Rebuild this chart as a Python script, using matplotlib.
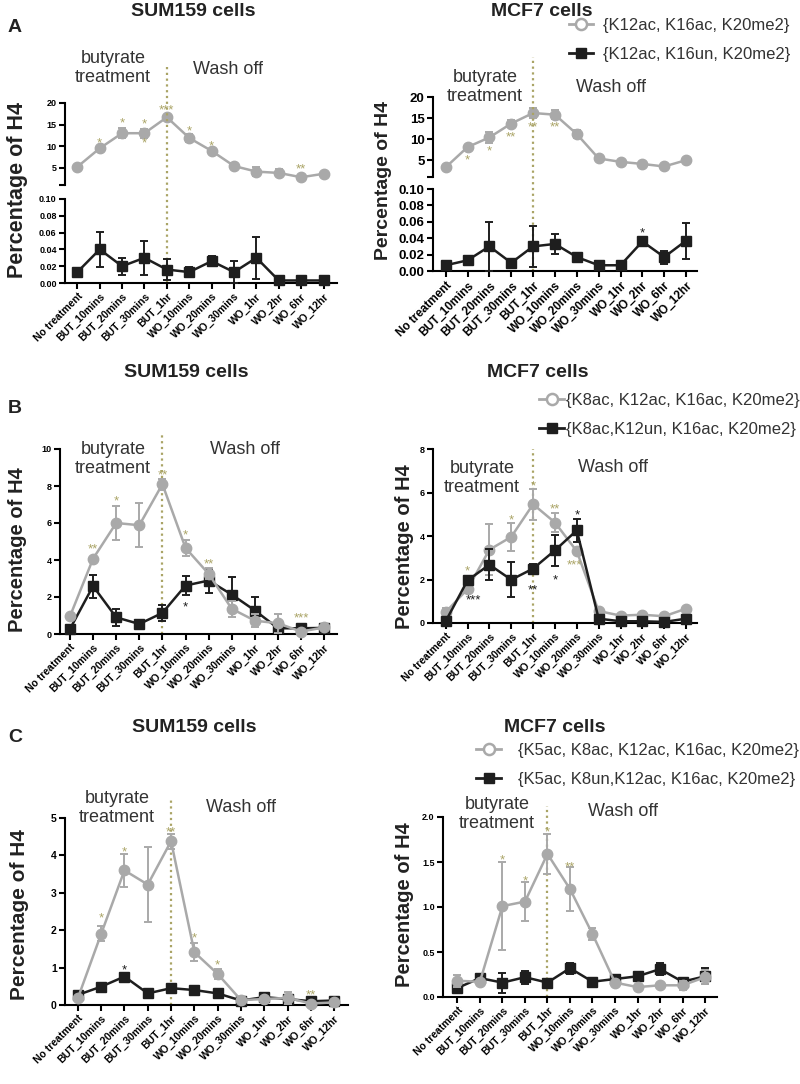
import numpy as np
import matplotlib
matplotlib.use('Agg')
import matplotlib.pyplot as plt
from matplotlib.lines import Line2D

plt.rcParams['font.family'] = ['Liberation Sans', 'DejaVu Sans']

W, H = 800, 1084

conditions = ['No treatment', 'BUT_10mins', 'BUT_20mins', 'BUT_30mins', 'BUT_1hr',
              'WO_10mins', 'WO_20mins', 'WO_30mins', 'WO_1hr', 'WO_2hr', 'WO_6hr', 'WO_12hr']

# panel A : {K12ac, K16ac, K20me2} (gray) / {K12ac, K16un, K20me2} (black)
a_sum_ac = [5.2, 9.5, 13.0, 13.0, 16.7, 11.9, 8.9, 5.4, 4.1, 3.8, 2.8, 3.6]
a_sum_ac_err = [0, 0, 1.2, 1.0, 0, 1.0, 0, 0.8, 1.0, 0.8, 0, 0]
a_sum_un = [0.013, 0.040, 0.020, 0.030, 0.016, 0.013, 0.026, 0.013, 0.030, 0.003, 0.003, 0.003]
a_sum_un_err = [0, 0.021, 0.010, 0.020, 0.012, 0.006, 0.006, 0.013, 0.025, 0, 0, 0]
a_mcf_ac = [3.3, 8.1, 10.4, 13.7, 16.2, 15.8, 11.2, 5.4, 4.6, 4.1, 3.5, 5.0]
a_mcf_ac_err = [0, 0, 1.4, 0.8, 1.1, 1.0, 0.9, 0, 0, 0, 0, 0]
a_mcf_un = [0.007, 0.013, 0.030, 0.010, 0.030, 0.033, 0.017, 0.007, 0.007, 0.036, 0.017, 0.037]
a_mcf_un_err = [0, 0, 0.030, 0, 0.025, 0.012, 0, 0, 0, 0.006, 0.008, 0.022]

# panel B : {K8ac, K12ac, K16ac, K20me2} / {K8ac,K12un, K16ac, K20me2}
b_sum_ac = [0.95, 4.07, 6.0, 5.88, 8.1, 4.65, 3.25, 1.36, 0.72, 0.58, 0.13, 0.36]
b_sum_ac_err = [0, 0, 0.93, 1.2, 0.3, 0.45, 0.3, 0.45, 0.35, 0.5, 0, 0.12]
b_sum_un = [0.27, 2.59, 0.9, 0.54, 1.14, 2.62, 2.89, 2.13, 1.27, 0.31, 0.31, 0.33]
b_sum_un_err = [0, 0.62, 0.45, 0, 0.45, 0.5, 0.65, 0.95, 0.72, 0.1, 0, 0]
b_mcf_ac = [0.5, 1.56, 3.37, 3.96, 5.46, 4.62, 3.3, 0.55, 0.34, 0.38, 0.31, 0.66]
b_mcf_ac_err = [0.2, 0, 1.17, 0.63, 0.72, 0.45, 0, 0, 0, 0, 0, 0]
b_mcf_un = [0.08, 1.96, 2.68, 1.99, 2.5, 3.34, 4.26, 0.2, 0.08, 0.08, 0.05, 0.2]
b_mcf_un_err = [0, 0, 0.72, 0.8, 0.2, 0.7, 0.52, 0, 0, 0, 0, 0]

# panel C : {K5ac, K8ac, K12ac, K16ac, K20me2} / {K5ac, K8un,K12ac, K16ac, K20me2}
c_sum_ac = [0.18, 1.9, 3.6, 3.22, 4.38, 1.41, 0.83, 0.13, 0.16, 0.19, 0.04, 0.07]
c_sum_ac_err = [0, 0.2, 0.45, 1.0, 0.2, 0.24, 0.13, 0, 0, 0.15, 0, 0]
c_sum_un = [0.27, 0.49, 0.76, 0.31, 0.45, 0.40, 0.31, 0.12, 0.21, 0.16, 0.10, 0.12]
c_sum_un_err = [0] * 12
c_mcf_ac = [0.18, 0.17, 1.01, 1.06, 1.59, 1.2, 0.70, 0.16, 0.11, 0.13, 0.13, 0.22]
c_mcf_ac_err = [0.07, 0, 0.49, 0.22, 0.22, 0.24, 0.07, 0, 0, 0.03, 0.05, 0.08]
c_mcf_un = [0.10, 0.21, 0.16, 0.22, 0.16, 0.32, 0.17, 0.20, 0.23, 0.31, 0.17, 0.23]
c_mcf_un_err = [0, 0, 0.11, 0.07, 0, 0.06, 0, 0, 0, 0.07, 0.04, 0.09]

legend_a = ['{K12ac, K16ac, K20me2}', '{K12ac, K16un, K20me2}']
legend_b = ['{K8ac, K12ac, K16ac, K20me2}', '{K8ac,K12un, K16ac, K20me2}']
legend_c = ['{K5ac, K8ac, K12ac, K16ac, K20me2}', '{K5ac, K8un,K12ac, K16ac, K20me2}']

# significance stars: (index, y, text, series)
stars_a_sum = [(1, 11.6, '*', 'g'), (2, 16.4, '*', 'g'), (3, 16.0, '*', 'g'), (3, 11.6, '*', 'g'),
               (4, 19.4, '***', 'g'), (5, 14.5, '*', 'g'), (6, 11.1, '*', 'g'), (10, 5.6, '**', 'g')]
stars_a_mcf = [(1, 6.1, '*', 'g'), (2, 8.1, '*', 'g'), (3, 11.4, '**', 'g'),
               (4, 13.8, '**', 'g'), (5, 13.8, '**', 'g')]
stars_a_mcf_low = [(9, 0.051, '*', 'k')]
stars_b_sum = [(1, 4.8, '**', 'g'), (2, 7.4, '*', 'g'), (4, 8.8, '**', 'g'), (5, 5.6, '*', 'g'),
               (6, 4.0, '**', 'g'), (10, 1.1, '***', 'g'), (5, 1.7, '*', 'k')]
stars_b_mcf = [(1, 2.58, '*', 'g'), (1.25, 1.24, '***', 'k'), (3, 4.95, '*', 'g'), (4, 6.5, '*', 'g'),
               (4, 1.73, '**', 'k'), (5, 5.45, '**', 'g'), (5, 2.19, '*', 'k'), (6, 5.18, '*', 'k'),
               (5.9, 2.88, '***', 'g')]
stars_c_sum = [(1, 2.44, '*', 'g'), (2, 4.2, '*', 'g'), (4, 4.73, '**', 'g'), (5, 1.9, '*', 'g'),
               (6, 1.19, '*', 'g'), (2, 1.05, '*', 'k'), (10, 0.38, '**', 'g')]
stars_c_mcf = [(2, 1.57, '*', 'g'), (3, 1.34, '*', 'g'), (4, 1.88, '*', 'g'), (5, 1.49, '**', 'g')]

GRAY = '#a9a9a9'
BLACK = '#1e1e1e'
OLIVE = '#aaa466'
STAR_COL = {'g': OLIVE, 'k': BLACK}

x = np.arange(len(conditions))

fig = plt.figure(figsize=(W / 100, H / 100), dpi=100)


def add_ax(x0, y0, x1, y1):
    return fig.add_axes([x0 / W, 1 - y1 / H, (x1 - x0) / W, (y1 - y0) / H])


def ftext(px, py, s, **kw):
    fig.text(px / W, 1 - py / H, s, **kw)


def style(ax, lab_fs):
    for s in ['top', 'right']:
        ax.spines[s].set_visible(False)
    for s in ['left', 'bottom']:
        ax.spines[s].set_linewidth(1.5)
    ax.tick_params(width=1.5, length=4, direction='out', labelsize=lab_fs, pad=2)
    for t in ax.get_yticklabels():
        t.set_fontweight('bold')


def draw(ax, yv, err, kind, z):
    if kind == 'g':
        ax.errorbar(x, yv, yerr=err, color=GRAY, marker='o', ms=7.5, lw=1.8,
                    capsize=3, elinewidth=1.4, capthick=1.4, zorder=z, clip_on=False)
    else:
        ax.errorbar(x, yv, yerr=err, color=BLACK, marker='s', ms=6.5, lw=1.8,
                    capsize=3, elinewidth=1.4, capthick=1.4, zorder=z, clip_on=False)


def put_stars(ax, stars, fs=9.5):
    for i, yv, s, c in stars:
        ax.annotate(s, (i, yv), xytext=(0, -0.58 * fs), textcoords='offset points',
                    ha='center', va='baseline', fontsize=fs, color=STAR_COL[c], zorder=6)


def xlabels(ax, fs):
    ax.set_xticks(x)
    ax.set_xticklabels(conditions, rotation=45, ha='right', rotation_mode='anchor',
                       fontsize=fs, fontweight='bold')


def vline(ax, ax_top_px, ax_bot_px, line_top_px):
    frac = (ax_bot_px - line_top_px) / (ax_bot_px - ax_top_px)
    ax.axvline(4, ymin=0, ymax=frac, color=OLIVE, ls=(0, (1, 1.6)), lw=1.6,
               clip_on=False, zorder=1)


def legend(ax, labels, px, py, hl, pad):
    handles = [Line2D([], [], color=GRAY, marker='o', mfc='white', mew=1.8, ms=8, lw=2),
               Line2D([], [], color=BLACK, marker='s', ms=7, lw=2)]
    fig.legend(handles, labels, loc='upper left', bbox_to_anchor=(px / W, 1 - py / H),
               frameon=False, fontsize=12, handlelength=hl, handletextpad=pad,
               labelspacing=0.85, borderpad=0, borderaxespad=0, labelcolor='#333333')


def notes(bx, by, wx, wy):
    ftext(bx, by, 'butyrate\ntreatment', ha='center', va='center', fontsize=13,
          color='#333333', linespacing=1.1)
    ftext(wx, wy, 'Wash off', ha='center', va='center', fontsize=13, color='#333333')


# ---------------- A, SUM159 ----------------
ax_up = add_ax(65, 103, 337, 185)
ax_lo = add_ax(65, 199, 337, 283)
draw(ax_up, a_sum_ac, a_sum_ac_err, 'g', 3)
draw(ax_lo, a_sum_un, a_sum_un_err, 'k', 3)
ax_up.set_ylim(1, 20)
ax_up.set_yticks([1, 5, 10, 15, 20])
ax_up.set_yticklabels(['', '5', '10', '15', '20'])
ax_lo.set_ylim(0, 0.10)
ax_lo.set_yticks(np.arange(0, 0.101, 0.02))
ax_lo.set_yticklabels(['0.00', '0.02', '0.04', '0.06', '0.08', '0.10'])
for a in (ax_up, ax_lo):
    a.set_xlim(-0.55, 11.6)
style(ax_up, 6.5)
style(ax_lo, 6.5)
ax_up.spines['bottom'].set_visible(False)
ax_up.set_xticks([])
xlabels(ax_lo, 7.5)
put_stars(ax_up, stars_a_sum)
vline(ax_lo, 199, 283, 66)

# ---------------- A, MCF7 ----------------
ax_up = add_ax(433, 97, 697, 177)
ax_lo = add_ax(433, 189, 697, 271)
draw(ax_up, a_mcf_ac, a_mcf_ac_err, 'g', 3)
draw(ax_lo, a_mcf_un, a_mcf_un_err, 'k', 3)
ax_up.set_ylim(1, 20)
ax_up.set_yticks([1, 5, 10, 15, 20])
ax_up.set_yticklabels(['', '5', '10', '15', '20'])
ax_lo.set_ylim(0, 0.10)
ax_lo.set_yticks(np.arange(0, 0.101, 0.02))
ax_lo.set_yticklabels(['0.00', '0.02', '0.04', '0.06', '0.08', '0.10'])
for a in (ax_up, ax_lo):
    a.set_xlim(-0.58, 11.5)
style(ax_up, 9.5)
style(ax_lo, 9.5)
ax_up.spines['bottom'].set_visible(False)
ax_up.set_xticks([])
xlabels(ax_lo, 8.5)
put_stars(ax_up, stars_a_mcf)
put_stars(ax_lo, stars_a_mcf_low)
vline(ax_lo, 189, 271, 57)
legend(ax_up, legend_a, 569, 18, 1.45, 0.6)

# ---------------- B, SUM159 ----------------
ax = add_ax(60, 449, 337, 634)
draw(ax, b_sum_un, b_sum_un_err, 'k', 3)
draw(ax, b_sum_ac, b_sum_ac_err, 'g', 4)
ax.set_ylim(0, 10)
ax.set_yticks(range(0, 11, 2))
ax.set_xlim(-0.43, 11.55)
style(ax, 6.5)
xlabels(ax, 7.5)
put_stars(ax, stars_b_sum)
vline(ax, 449, 634, 435)

# ---------------- B, MCF7 ----------------
ax = add_ax(433, 449, 697, 623)
draw(ax, b_mcf_ac, b_mcf_ac_err, 'g', 3)
draw(ax, b_mcf_un, b_mcf_un_err, 'k', 4)
ax.set_ylim(0, 8)
ax.set_yticks(range(0, 9, 2))
ax.set_xlim(-0.58, 11.5)
style(ax, 6.5)
xlabels(ax, 7.5)
put_stars(ax, stars_b_mcf)
vline(ax, 449, 623, 449)
legend(ax, legend_b, 539, 393, 1.5, 0.15)

# ---------------- C, SUM159 ----------------
ax = add_ax(65, 818, 348, 1005)
draw(ax, c_sum_un, c_sum_un_err, 'k', 3)
draw(ax, c_sum_ac, c_sum_ac_err, 'g', 4)
ax.set_ylim(0, 5)
ax.set_yticks(range(0, 6))
ax.set_xlim(-0.55, 11.59)
style(ax, 7.5)
xlabels(ax, 7.5)
put_stars(ax, stars_c_sum)
vline(ax, 818, 1005, 800)

# ---------------- C, MCF7 ----------------
ax = add_ax(443, 817, 717, 997)
draw(ax, c_mcf_un, c_mcf_un_err, 'k', 3)
draw(ax, c_mcf_ac, c_mcf_ac_err, 'g', 4)
ax.set_ylim(0, 2)
ax.set_yticks([0, 0.5, 1.0, 1.5, 2.0])
ax.set_yticklabels(['0.0', '0.5', '1.0', '1.5', '2.0'])
ax.set_xlim(-0.64, 11.53)
style(ax, 6.5)
xlabels(ax, 7.5)
put_stars(ax, stars_c_mcf)
vline(ax, 817, 997, 806)
legend(ax, legend_c, 476, 743, 1.5, 1.0)

# ---------------- texts ----------------
for px, py, s in [(193, 11, 'SUM159 cells'), (542, 11, 'MCF7 cells'),
                  (186, 373, 'SUM159 cells'), (538, 373, 'MCF7 cells'),
                  (194, 728, 'SUM159 cells'), (555, 727, 'MCF7 cells')]:
    ftext(px, py, s, ha='center', va='center', fontsize=14, fontweight='bold', color='#222222')

for py, s in [(28, 'A'), (409, 'B'), (737, 'C')]:
    ftext(8, py, s, ha='left', va='center', fontsize=14, fontweight='bold', color='#222222')

for px, py, fs in [(18, 190, 15.5), (384, 180, 14), (18, 550, 14.5),
                   (404, 547, 14.5), (20, 915, 15), (404, 905, 14.5)]:
    ftext(px, py, 'Percentage of H4', ha='center', va='center', rotation=90,
          fontsize=fs, fontweight='bold', color='#222222')

notes(113, 68, 228, 69)
notes(485, 87, 611, 87)
notes(113, 459, 245, 449)
notes(482, 478, 613, 468)
notes(117, 808, 241, 807)
notes(497, 814, 623, 812)

fig.savefig('out.png', dpi=100)
